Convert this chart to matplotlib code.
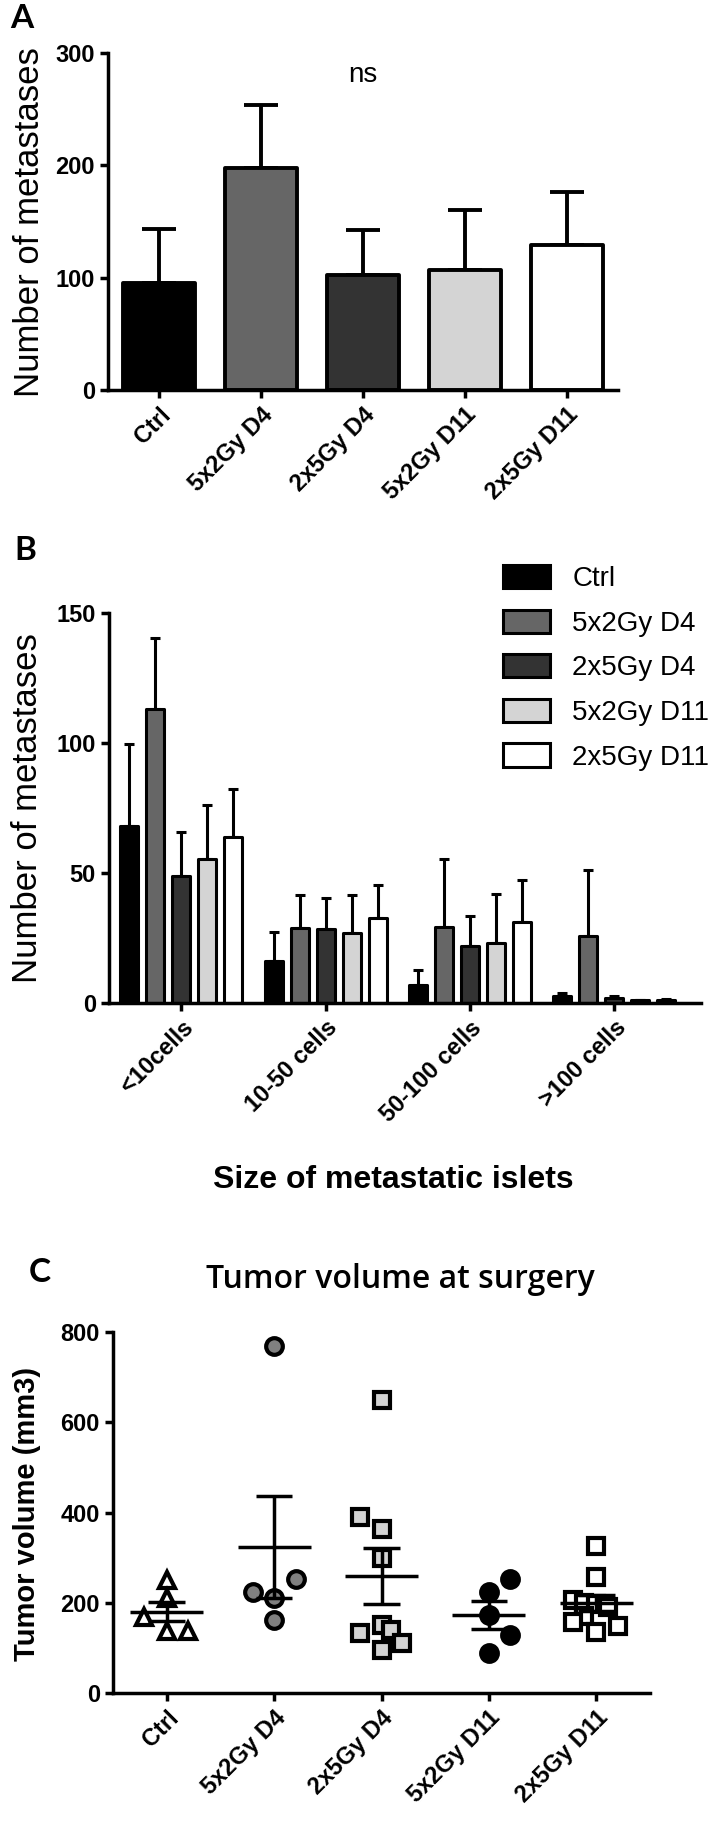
import numpy as np
import matplotlib.pyplot as plt
from matplotlib.patches import Patch

plt.rcParams['font.family'] = ['Liberation Sans', 'DejaVu Sans']

W, H = 723, 1829

# ---- data ----
groups = ['Ctrl', '5x2Gy D4', '2x5Gy D4', '5x2Gy D11', '2x5Gy D11']
colors = ['#000000', '#666666', '#333333', '#d4d4d4', '#ffffff']

# panel A: total number of metastases (mean, upper SEM)
total_mean = [95, 198, 102, 107, 129]
total_err = [48, 56, 40, 53, 47]

# panel B: metastases by islet size
sizes = ['<10cells', '10-50 cells', '50-100 cells', '>100 cells']
b_ctrl = [68, 16, 7, 2.6]
b_ctrl_err = [31.5, 11.4, 5.6, 1.1]
b_5x2_d4 = [113, 28.8, 29.3, 25.9]
b_5x2_d4_err = [27.5, 12.9, 25.9, 25.3]
b_2x5_d4 = [48.7, 28.4, 22, 1.9]
b_2x5_d4_err = [17.2, 11.8, 11.4, 0.6]
b_5x2_d11 = [55.3, 26.8, 23.1, 1.0]
b_5x2_d11_err = [20.7, 14.9, 18.9, 0.3]
b_2x5_d11 = [64, 32.5, 31.3, 1.2]
b_2x5_d11_err = [18.4, 12.9, 16.0, 0.3]

# panel C: tumor volume at surgery (mm3), one value per mouse
vol_ctrl = [250, 210, 169, 137, 137]
vol_5x2_d4 = [770, 252, 224, 210, 162]
vol_2x5_d4 = [650, 391, 363, 300, 151, 140, 132, 110, 95]
vol_5x2_d11 = [252, 224, 173, 128, 88]
vol_2x5_d11 = [325, 258, 205, 200, 198, 190, 170, 158, 148, 136]

# horizontal scatter of the points inside each column
jit_ctrl = [0, 0, -0.21, 0, 0.2]
jit_5x2_d4 = [0, 0.2, -0.2, 0, 0]
jit_2x5_d4 = [0, -0.2, 0, 0, 0, 0.09, -0.2, 0.19, 0]
jit_5x2_d11 = [0.2, 0, 0, 0.2, 0]
jit_2x5_d11 = [0, 0, -0.22, -0.11, 0, 0.11, -0.11, -0.22, 0.2, 0]


def px_axes(l, r, t, b):
    return fig.add_axes([l / W, 1 - b / H, (r - l) / W, (b - t) / H])


def style(ax):
    for s in ['top', 'right']:
        ax.spines[s].set_visible(False)
    for s in ['left', 'bottom']:
        ax.spines[s].set_linewidth(2.5)
    ax.tick_params(width=2.5, length=6, labelsize=17)
    for t in ax.get_yticklabels():
        t.set_fontweight('bold')


fig = plt.figure(figsize=(W / 100, H / 100), dpi=100)

# ---- A ----
ax = px_axes(108, 618, 53, 390)
x = np.arange(len(groups))
bars = ax.bar(x, total_mean, width=0.7, color=colors, edgecolor='black',
              linewidth=2.8, zorder=2)
for b in bars:
    b.set_joinstyle('round')
ax.errorbar(x, total_mean, yerr=[np.zeros(5), total_err], fmt='none',
            ecolor='black', elinewidth=2.8, capsize=12, capthick=2.8, zorder=1)
ax.set_xlim(-0.5, 4.5)
ax.set_ylim(0, 300)
ax.set_yticks([0, 100, 200, 300])
ax.set_xticks(x)
ax.set_xticklabels(groups, rotation=45, ha='right', rotation_mode='anchor',
                   fontsize=17, fontweight='bold')
style(ax)
ax.text(2, 280, 'ns', ha='center', va='center', fontsize=20)
fig.text(30 / W, 1 - 222 / H, 'Number of metastases', rotation=90,
         ha='center', va='center', fontsize=25)
fig.text(22 / W, 1 - 19 / H, 'A', family='Lato', fontweight='bold',
         fontsize=24, ha='center', va='center')

# ---- B ----
ax = px_axes(109, 701, 613, 1003)
series = [(b_ctrl, b_ctrl_err), (b_5x2_d4, b_5x2_d4_err), (b_2x5_d4, b_2x5_d4_err),
          (b_5x2_d11, b_5x2_d11_err), (b_2x5_d11, b_2x5_d11_err)]
xs = np.arange(len(sizes))
offs = (np.arange(5) - 2) * 0.18
for i, (vals, errs) in enumerate(series):
    bb = ax.bar(xs + offs[i], vals, width=0.125, color=colors[i],
                edgecolor='black', linewidth=2.2, zorder=2)
    for b in bb:
        b.set_joinstyle('round')
    ax.errorbar(xs + offs[i], vals, yerr=[np.zeros(4), errs], fmt='none',
                ecolor='black', elinewidth=2.2, capsize=3.5, capthick=2.2, zorder=1)
ax.set_xlim(-0.5, 3.6)
ax.set_ylim(0, 150)
ax.set_yticks([0, 50, 100, 150])
ax.set_xticks(xs)
ax.set_xticklabels(sizes, rotation=45, ha='right', rotation_mode='anchor',
                   fontsize=18, fontweight='bold')
style(ax)
handles = [Patch(facecolor=c, edgecolor='black', linewidth=2.2) for c in colors]
fig.legend(handles, groups, loc='upper left', bbox_to_anchor=(503 / W, 1 - 565 / H),
           frameon=False, fontsize=20, handlelength=1.7, handleheight=0.9,
           handletextpad=0.8, labelspacing=0.63, borderpad=0, borderaxespad=0)
fig.text(28 / W, 1 - 808 / H, 'Number of metastases', rotation=90,
         ha='center', va='center', fontsize=25)
fig.text(393 / W, 1 - 1180 / H, 'Size of metastatic islets', ha='center',
         va='center', fontsize=23, fontweight='bold')
fig.text(25 / W, 1 - 550 / H, 'B', family='Lato', fontweight='bold',
         fontsize=24, ha='center', va='center')

# ---- C ----
ax = px_axes(113, 650, 1332, 1693)
vols = [vol_ctrl, vol_5x2_d4, vol_2x5_d4, vol_5x2_d11, vol_2x5_d11]
jits = [jit_ctrl, jit_5x2_d4, jit_2x5_d4, jit_5x2_d11, jit_2x5_d11]
markers = ['^', 'o', 's', 'o', 's']
mfaces = ['white', '#808080', '#d3d3d3', 'black', 'white']
for i, (v, j) in enumerate(zip(vols, jits)):
    v = np.array(v, dtype=float)
    ax.plot(i + np.array(j), v, linestyle='none', marker=markers[i],
            markersize=12, markerfacecolor=mfaces[i], markeredgecolor='black',
            markeredgewidth=3, zorder=2)
    m = v.mean()
    sem = v.std(ddof=1) / np.sqrt(len(v))
    ax.hlines(m, i - 0.34, i + 0.34, color='black', lw=2.5, zorder=3)
    ax.vlines(i, m - sem, m + sem, color='black', lw=2.5, zorder=3)
    ax.hlines([m - sem, m + sem], i - 0.17, i + 0.17, color='black', lw=2.5, zorder=3)
ax.set_xlim(-0.5, 4.5)
ax.set_ylim(0, 800)
ax.set_yticks([0, 200, 400, 600, 800])
ax.set_xticks(range(5))
ax.set_xticklabels(groups, rotation=45, ha='right', rotation_mode='anchor',
                   fontsize=17, fontweight='bold')
style(ax)
fig.text(27 / W, 1 - 1514 / H, 'Tumor volume (mm3)', rotation=90,
         ha='center', va='center', fontsize=21, fontweight='bold')
fig.text(400 / W, 1 - 1280 / H, 'Tumor volume at surgery', family='Open Sans',
         ha='center', va='center', fontsize=23, fontweight='semibold')
fig.text(40 / W, 1 - 1272 / H, 'C', family='Lato', fontweight='bold',
         fontsize=24, ha='center', va='center')

fig.savefig('out.png', dpi=100)
